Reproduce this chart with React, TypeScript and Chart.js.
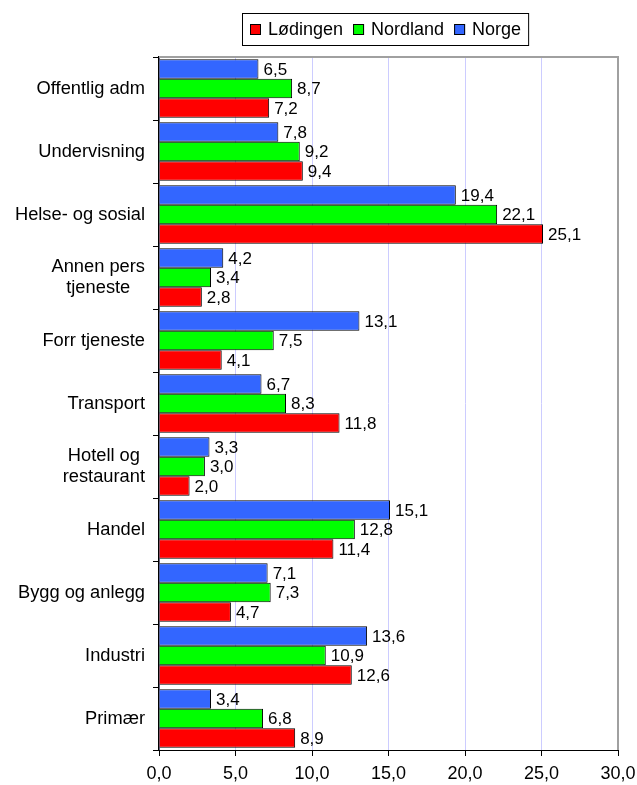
import React, { useEffect, useRef } from "react";
import { Chart, registerables } from "chart.js";

Chart.register(...registerables);

const categories: (string | string[])[] = [
  "Offentlig adm",
  "Undervisning",
  "Helse- og sosial",
  ["Annen pers", "tjeneste"],
  "Forr tjeneste",
  "Transport",
  ["Hotell og", "restaurant"],
  "Handel",
  "Bygg og anlegg",
  "Industri",
  "Primær",
];

const norge = [6.5, 7.8, 19.4, 4.2, 13.1, 6.7, 3.3, 15.1, 7.1, 13.6, 3.4];
const nordland = [8.7, 9.2, 22.1, 3.4, 7.5, 8.3, 3.0, 12.8, 7.3, 10.9, 6.8];
const lodingen = [7.2, 9.4, 25.1, 2.8, 4.1, 11.8, 2.0, 11.4, 4.7, 12.6, 8.9];

const seriesNames = ["Lødingen", "Nordland", "Norge"];
const seriesColors = ["#ff0000", "#00ff00", "#3366ff"];

const xTicks = [0, 5, 10, 15, 20, 25, 30];

const FONT = '"Liberation Sans", Arial, sans-serif';
const fmt = (v: number) => v.toFixed(1).replace(".", ",");

const labelsPlugin = {
  id: "customLabels",
  afterDatasetsDraw(chart: any) {
    const ctx = chart.ctx;
    ctx.save();
    ctx.font = `17px ${FONT}`;
    ctx.fillStyle = "#000";
    ctx.textAlign = "left";
    ctx.textBaseline = "middle";
    chart.data.datasets.forEach((ds: any, di: number) => {
      const meta = chart.getDatasetMeta(di);
      meta.data.forEach((el: any, i: number) => {
        ctx.fillText(fmt(ds.data[i]), el.x + 5, el.y + 1);
      });
    });
    ctx.restore();
  },
  afterDraw(chart: any) {
    const ctx = chart.ctx;
    const { left, right, top, bottom } = chart.chartArea;
    const yScale = chart.scales.y;
    ctx.save();
    // top & right gray border
    ctx.strokeStyle = "#a0a0a0";
    ctx.lineWidth = 2;
    ctx.beginPath();
    ctx.moveTo(left, top);
    ctx.lineTo(right, top);
    ctx.lineTo(right, bottom);
    ctx.stroke();

    // category labels
    ctx.font = `18.3px ${FONT}`;
    ctx.fillStyle = "#000";
    ctx.textBaseline = "middle";
    ctx.textAlign = "center";
    const rightEdge = left - 14;
    categories.forEach((c, i) => {
      const lines = Array.isArray(c) ? c : [c];
      const w = Math.max(...lines.map((l) => ctx.measureText(l).width));
      const cx = rightEdge - w / 2;
      const yc = yScale.getPixelForValue(i);
      const lh = 21;
      lines.forEach((l, li) => {
        const y = yc + (li - (lines.length - 1) / 2) * lh;
        ctx.fillText(l, cx, y);
      });
    });

    // legend
    ctx.font = `18px ${FONT}`;
    const sq = 11;
    const gapSqText = 7;
    const gapItem = 10;
    const widths = seriesNames.map((n) => ctx.measureText(n).width);
    let total = 0;
    widths.forEach((w, i) => {
      total += sq + gapSqText + w + (i < widths.length - 1 ? gapItem : 0);
    });
    const centerX = 386;
    let x = Math.round(centerX - total / 2);
    const boxTop = 13.5;
    const boxH = 32;
    ctx.strokeStyle = "#000";
    ctx.lineWidth = 1;
    ctx.strokeRect(Math.round(centerX - total / 2) - 7.5, boxTop, total + 15, boxH);
    const yMid = boxTop + boxH / 2;
    seriesNames.forEach((n, i) => {
      ctx.fillStyle = seriesColors[i];
      ctx.fillRect(x, yMid - sq / 2, sq, sq);
      ctx.strokeStyle = "#000";
      ctx.strokeRect(x + 0.5, yMid - sq / 2 + 0.5, sq - 1, sq - 1);
      ctx.fillStyle = "#000";
      ctx.textAlign = "left";
      ctx.fillText(n, x + sq + gapSqText, yMid + 1);
      x += sq + gapSqText + widths[i] + gapItem;
    });
    ctx.restore();
  },
};

export default function App() {
  const ref = useRef<HTMLCanvasElement | null>(null);
  useEffect(() => {
    if (!ref.current) return;
    const chart = new Chart(ref.current, {
      type: "bar",
      data: {
        labels: categories as any,
        datasets: [
          {
            label: seriesNames[2],
            data: norge,
            backgroundColor: seriesColors[2],
            borderColor: "#000",
            borderWidth: 1,
          },
          {
            label: seriesNames[1],
            data: nordland,
            backgroundColor: seriesColors[1],
            borderColor: "#000",
            borderWidth: 1,
          },
          {
            label: seriesNames[0],
            data: lodingen,
            backgroundColor: seriesColors[0],
            borderColor: "#000",
            borderWidth: 1,
          },
        ],
      },
      options: {
        indexAxis: "y",
        animation: false,
        responsive: false,
        maintainAspectRatio: false,
        layout: { padding: { left: 0, right: 19, top: 57, bottom: 0 } },
        datasets: {
          bar: { barPercentage: 1, categoryPercentage: 0.93 },
        },
        plugins: {
          legend: { display: false },
          tooltip: { enabled: false },
        },
        scales: {
          x: {
            min: 0,
            max: 30,
            afterBuildTicks: (s: any) => {
              s.ticks = xTicks.map((v) => ({ value: v }));
            },
            afterFit: (s: any) => {
              s.height = 35;
              s.paddingLeft = 0;
              s.paddingRight = 0;
            },
            ticks: {
              font: { family: FONT, size: 18 },
              color: "#000",
              padding: 7,
              maxRotation: 0,
              callback: (v: any) => fmt(Number(v)),
            },
            grid: {
              color: "#ccccff",
              tickColor: "#000",
              tickLength: 6,
              lineWidth: 1,
            },
            border: { color: "#000", width: 1 },
          },
          y: {
            afterFit: (s: any) => {
              s.width = 159;
              s.paddingTop = 0;
              s.paddingBottom = 0;
            },
            ticks: { display: false },
            grid: {
              drawOnChartArea: false,
              tickColor: "#000",
              tickLength: 6,
              offset: true,
            },
            border: { color: "#000", width: 1.5 },
          },
        },
      },
      plugins: [labelsPlugin],
    });
    return () => chart.destroy();
  }, []);
  return (
    <div style={{ position: "fixed", left: 0, top: 0, width: 637, height: 785, background: "#fff" }}>
      <canvas ref={ref} width={637} height={785} style={{ display: "block" }} />
    </div>
  );
}
